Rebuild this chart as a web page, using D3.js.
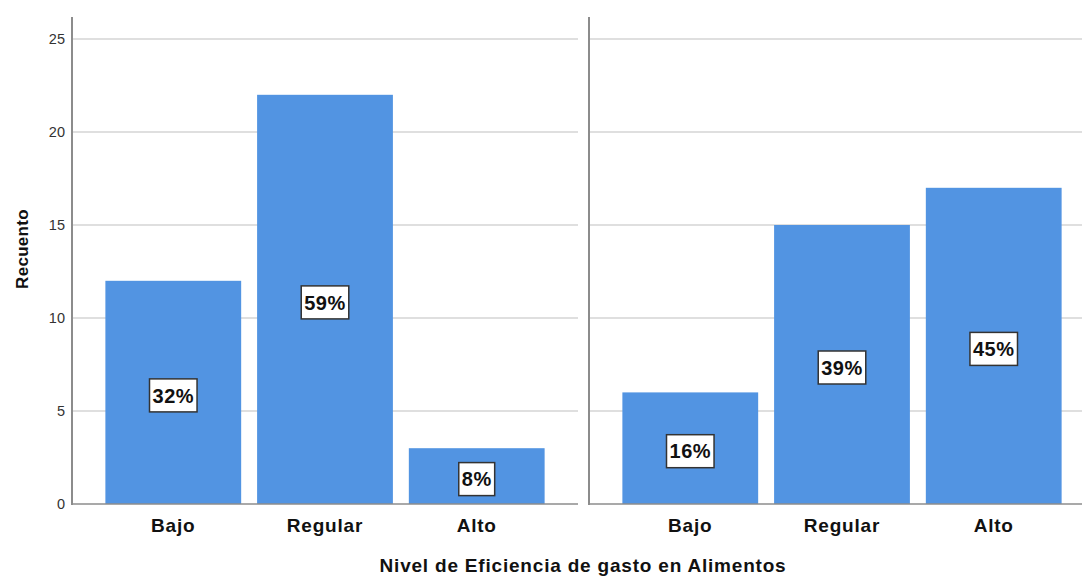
<!DOCTYPE html>
<html lang="es">
<head>
  <meta charset="UTF-8">
  <title>Recuento por nivel de eficiencia</title>
  <script src="https://d3js.org/d3.v7.min.js"></script>
  <style>
    body { margin: 0; background: #fff; font-family: "Liberation Sans", Arial, sans-serif; }
    .grid line { stroke: #d4d4d4; stroke-width: 1.5; }
    .axis-line { stroke: #8c8c8c; stroke-width: 2; }
    .tick-label { font-size: 14.5px; fill: #333; }
    .cat-label { font-size: 19px; font-weight: bold; fill: #111; text-anchor: middle; letter-spacing: 0.8px; }
    .pct-box { fill: #fff; stroke: #333; stroke-width: 1.5; }
    .pct-label { font-size: 20px; font-weight: bold; fill: #111; text-anchor: middle; letter-spacing: 0.5px; }
    .title { font-size: 19px; font-weight: bold; fill: #111; text-anchor: middle; letter-spacing: 0.8px; }
  </style>
</head>
<body>
<svg width="1082" height="577"></svg>
<script>
  const categories = ["Bajo", "Regular", "Alto"];
  const panelA = [12, 22, 3];
  const panelB = [6, 15, 17];
  const pctA = ["32%", "59%", "8%"];
  const pctB = ["16%", "39%", "45%"];
  const yTicks = [0, 5, 10, 15, 20, 25];

  const svg = d3.select("svg");
  const plotTop = 17, plotBottom = 504;
  const panelW = 506;
  const panels = [
    { x0: 72, values: panelA, pcts: pctA },
    { x0: 589, values: panelB, pcts: pctB }
  ];

  const y = d3.scaleLinear().domain([0, 25]).range([plotBottom, plotBottom - 465]);

  panels.forEach((p, i) => {
    const g = svg.append("g").attr("transform", `translate(${p.x0},0)`);
    const x = d3.scaleBand()
      .domain(categories)
      .range([0, panelW])
      .paddingInner(0.105)
      .paddingOuter(0.22);

    // gridlines
    const gridEnd = i === 0 ? 578 - p.x0 : panelW;
    g.append("g").attr("class", "grid")
      .selectAll("line")
      .data(yTicks.filter(t => t > 0))
      .join("line")
      .attr("x1", 0).attr("x2", gridEnd)
      .attr("y1", d => y(d)).attr("y2", d => y(d));

    // bars
    g.selectAll(".bar")
      .data(categories)
      .join("rect")
      .attr("class", "bar")
      .attr("fill", "#5294e2")
      .attr("x", d => x(d))
      .attr("width", x.bandwidth())
      .attr("y", (d, j) => y(p.values[j]))
      .attr("height", (d, j) => y(0) - y(p.values[j]));

    // axis lines
    g.append("line").attr("class", "axis-line")
      .attr("x1", 0).attr("x2", 0).attr("y1", plotTop).attr("y2", plotBottom + 1);
    g.append("line").attr("class", "axis-line")
      .attr("x1", 0).attr("x2", gridEnd).attr("y1", plotBottom).attr("y2", plotBottom)
      .style("stroke-width", 1.5);

    // percentage labels
    const lab = g.selectAll(".pct")
      .data(categories)
      .join("g")
      .attr("transform", (d, j) => `translate(${x(d) + x.bandwidth() / 2},${y(p.values[j] / 2) + 3})`);
    lab.append("text")
      .attr("class", "pct-label")
      .attr("dy", "0.36em")
      .text((d, j) => p.pcts[j]);
    lab.each(function () {
      const t = d3.select(this).select("text");
      const bb = t.node().getBBox();
      d3.select(this).insert("rect", "text")
        .attr("class", "pct-box")
        .attr("x", bb.x - 3).attr("y", -16.5)
        .attr("width", bb.width + 6).attr("height", 33);
    });

    // category labels
    g.selectAll(".cat")
      .data(categories)
      .join("text")
      .attr("class", "cat-label")
      .attr("x", d => x(d) + x.bandwidth() / 2)
      .attr("y", 532)
      .text(d => d);
  });

  // y tick labels (left panel only)
  svg.selectAll(".tick-label")
    .data(yTicks)
    .join("text")
    .attr("class", "tick-label")
    .attr("x", 65)
    .attr("y", d => y(d))
    .attr("dy", "0.35em")
    .attr("text-anchor", "end")
    .text(d => d);

  svg.append("text")
    .attr("class", "title")
    .attr("transform", "translate(28,249) rotate(-90)")
    .style("font-size", "17px")
    .style("letter-spacing", "0.3px")
    .text("Recuento");

  svg.append("text")
    .attr("class", "title")
    .attr("x", 583)
    .attr("y", 572)
    .text("Nivel de Eficiencia de gasto en Alimentos");
</script>
</body>
</html>
